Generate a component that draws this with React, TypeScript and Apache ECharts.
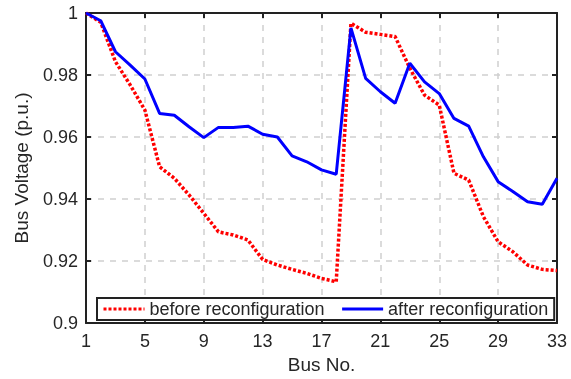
import React, { useEffect, useRef } from "react";
import * as echarts from "echarts";

const buses = Array.from({ length: 33 }, (_, i) => String(i + 1));
const beforeReconfig = [
  1.0, 0.997, 0.9843, 0.9768, 0.9687, 0.9504, 0.9467, 0.9413, 0.9354, 0.9294,
  0.9284, 0.9268, 0.9205, 0.9187, 0.9173, 0.916, 0.9144, 0.9133, 0.9967, 0.9938,
  0.9931, 0.9924, 0.9822, 0.9735, 0.9703, 0.9483, 0.9461, 0.9343, 0.9262, 0.923,
  0.9187, 0.9173, 0.9169,
];
const afterReconfig = [
  1.0, 0.9975, 0.9875, 0.9832, 0.9787, 0.9676, 0.967, 0.9633, 0.9598, 0.9631,
  0.9631, 0.9635, 0.9609, 0.96, 0.9539, 0.952, 0.9494, 0.948, 0.9952, 0.9789,
  0.9746, 0.9709, 0.9838, 0.9778, 0.974, 0.966, 0.9635, 0.9536, 0.9456, 0.9424,
  0.9391, 0.9383, 0.9467,
];

const FONT = "Liberation Sans";
const TXT = "#262626";
const AX = "#222";

export default function App() {
  const ref = useRef<HTMLDivElement>(null);
  useEffect(() => {
    if (!ref.current) return;
    const chart = echarts.init(ref.current, null, { renderer: "svg" });
    const gridLine = { show: true, lineStyle: { color: "#d0d0d0", type: [6, 6] as any, width: 1.5 } };
    const axLine = { show: true, onZero: false, lineStyle: { color: AX, width: 2 } };
    const tick = { show: true, inside: true, length: 5, lineStyle: { color: AX, width: 2 } };
    chart.setOption({
      animation: false,
      textStyle: { fontFamily: FONT, color: TXT },
      grid: { left: 86, top: 13, right: 14, bottom: 56 },
      legend: {
        left: 97,
        top: 298,
        itemGap: 16,
        itemWidth: 41,
        itemHeight: 14,
        padding: [2, 6, 2, 5],
        borderColor: AX,
        borderWidth: 2,
        borderRadius: 0,
        backgroundColor: "#fff",
        itemStyle: { opacity: 0 },
        lineStyle: { width: 3 },
        textStyle: { fontFamily: FONT, fontSize: 18, color: TXT },
        data: ["before reconfiguration", "after reconfiguration"],
        z: 10,
      },
      xAxis: [
        {
          type: "category",
          data: buses,
          boundaryGap: false,
          name: "Bus No.",
          nameLocation: "middle",
          nameGap: 31,
          nameTextStyle: { fontFamily: FONT, fontSize: 19, color: TXT },
          axisLine: axLine,
          axisTick: { ...tick, interval: 3 },
          axisLabel: { interval: 3, fontFamily: FONT, fontSize: 18, color: TXT, margin: 9 },
          splitLine: { ...gridLine, interval: 3 },
        },
        {
          type: "category",
          data: buses,
          boundaryGap: false,
          position: "top",
          axisLine: axLine,
          axisTick: { ...tick, interval: 3 },
          axisLabel: { show: false },
          splitLine: { show: false },
        },
      ],
      yAxis: [
        {
          type: "value",
          min: 0.9,
          max: 1,
          interval: 0.02,
          name: "Bus Voltage (p.u.)",
          nameLocation: "middle",
          nameGap: 55,
          nameTextStyle: { fontFamily: FONT, fontSize: 19, color: TXT },
          axisLine: axLine,
          axisTick: tick,
          axisLabel: { fontFamily: FONT, fontSize: 18, color: TXT, margin: 8 },
          splitLine: gridLine,
        },
        {
          type: "value",
          min: 0.9,
          max: 1,
          interval: 0.02,
          position: "right",
          axisLine: axLine,
          axisTick: tick,
          axisLabel: { show: false },
          splitLine: { show: false },
        },
      ],
      series: [
        {
          name: "before reconfiguration",
          type: "line",
          data: beforeReconfig,
          symbol: "none",
          lineStyle: { color: "#ff0000", width: 3.5, type: [3, 2] as any },
          itemStyle: { color: "#ff0000" },
        },
        {
          name: "after reconfiguration",
          type: "line",
          data: afterReconfig,
          symbol: "none",
          lineStyle: { color: "#0000ff", width: 3 },
          itemStyle: { color: "#0000ff" },
          z: 3,
        },
      ],
    });
    return () => chart.dispose();
  }, []);
  return <div ref={ref} style={{ position: "fixed", left: 0, top: 0, width: 571, height: 379 }} />;
}
